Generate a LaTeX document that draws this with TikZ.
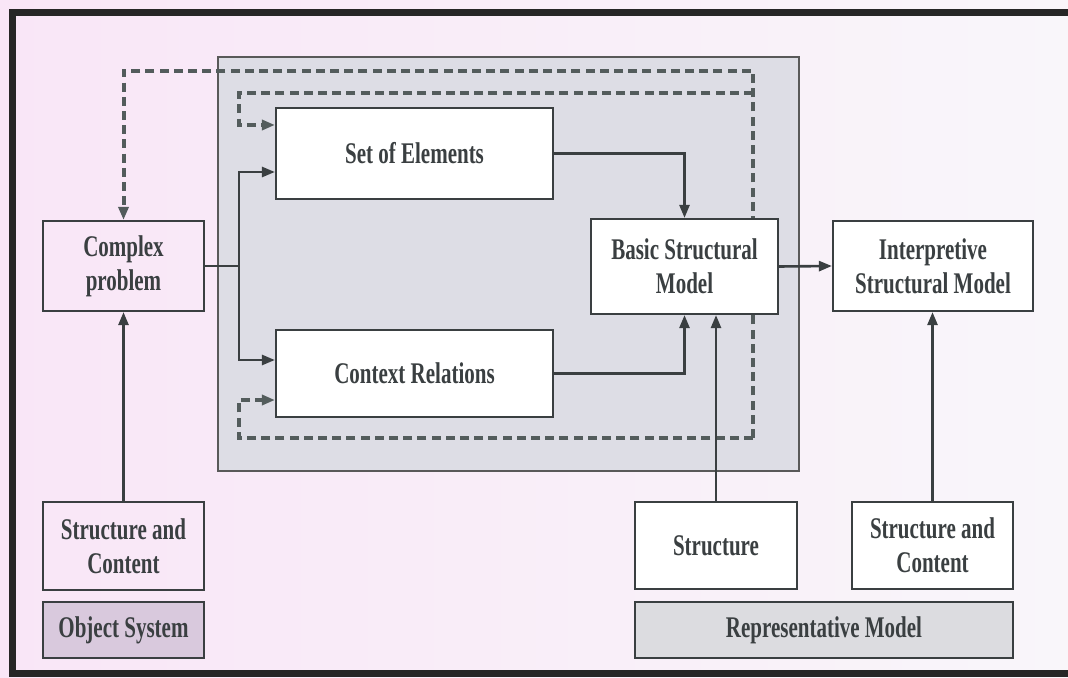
\documentclass[tikz,border=0pt]{standalone}
\usepackage{fontspec}
\setmainfont{Liberation Serif}[FakeStretch=0.70]
\usepackage{xcolor}
\usetikzlibrary{positioning, arrows.meta, calc}

\definecolor{inkgray}{HTML}{3A3F41}
\definecolor{dashgray}{HTML}{535C5C}
\definecolor{pinkbg}{HTML}{F9E6F7}
\definecolor{palebg}{HTML}{F9F6FA}
\definecolor{panelgray}{HTML}{DDDDE5}
\definecolor{objfill}{HTML}{D9C9DD}
\definecolor{repfill}{HTML}{DCDCE0}

\pgfdeclarelayer{paper}
\pgfdeclarelayer{loops}
\pgfsetlayers{paper,loops,main}

\begin{document}
\begin{tikzpicture}[
    x=0.5pt, y=-0.5pt,
    block/.style={rectangle, draw=inkgray, line width=1.1pt, align=center, text=inkgray, font=\fontsize{15}{17}\selectfont\bfseries, inner sep=2pt},
    arrow/.style={-{Triangle[length=6.5pt, width=5pt]}, line width=1.3pt, draw=inkgray},
    feedback/.style={-{Triangle[length=6.5pt, width=5pt]}, line width=2pt, draw=dashgray, dash pattern=on 4.5pt off 2.6pt}
]
\useasboundingbox (0,0) rectangle (1068,678);

\node[block, fill=white, minimum width=138.5pt, minimum height=45.5pt] (elements) at (414.5,153.5) {Set of Elements};
\node[block, fill=white, minimum width=138.5pt, minimum height=43.5pt] (relations) at (414.5,373.5) {Context Relations};
\node[block, minimum width=80.5pt, minimum height=45pt] (problem) at (123.5,266) {Complex\\problem};
\node[block, fill=white, minimum width=93.5pt, minimum height=47.5pt] (bsm) at (684.5,266.5) {Basic Structural\\Model};
\node[block, fill=white, minimum width=100pt, minimum height=45pt] (ism) at (933,266) {Interpretive\\Structural Model};
\node[block, minimum width=80.5pt, minimum height=44pt] (contentL) at (123.5,546) {Structure and\\Content};
\node[block, fill=objfill, minimum width=80.5pt, minimum height=28pt] (objsys) at (123.5,630) {Object System};
\node[block, fill=white, minimum width=81pt, minimum height=43.5pt] (structure) at (716,545.5) {Structure};
\node[block, fill=white, minimum width=80.5pt, minimum height=43.5pt] (contentR) at (932.5,545.5) {Structure and\\Content};
\node[block, fill=repfill, minimum width=189pt, minimum height=28pt] (repmodel) at (824,630) {Representative Model};

% solid flow
\coordinate (fork) at (239,266);
\draw[arrow] (problem.east) -- (fork) |- ($(elements.west)+(0,18.5)$);
\draw[arrow] (fork) |- ($(relations.west)+(0,-13.5)$);
\draw[arrow] (elements.east) -| (bsm.north);
\draw[arrow] (relations.east) -| (bsm.south);
\draw[arrow] (bsm.east) -- (ism.west);
\draw[arrow] (structure.north) -- (structure.north |- bsm.south);
\draw[arrow] (contentL.north) -- (problem.south);
\draw[arrow] (contentR.north) -- (contentR.north |- ism.south);

% feedback loops
\begin{pgfonlayer}{loops}
\coordinate (loopT) at (753,71);
\coordinate (loopM) at (753,93);
\coordinate (loopB) at (753,438);
\coordinate (turnM) at (239,93);
\coordinate (turnB) at (239,438);
\draw[feedback] (loopB) -- (loopT) -| (problem.north);
\draw[feedback] (loopM) -- (turnM) |- ($(elements.west)+(0,-28.5)$);
\draw[feedback] (loopB) -- (turnB) |- ($(relations.west)+(0,26.5)$);
\end{pgfonlayer}

% paper, panel and frame
\begin{pgfonlayer}{paper}
\shade[left color=pinkbg, right color=palebg] (0,0) rectangle (1068,678);
\fill[panelgray] (218,57) rectangle (799,471);
\draw[gray!70!black, line width=0.8pt] (218,57) rectangle (799,471);
\begin{scope}
\clip (0,0) rectangle (1068,678);
\draw[line width=3.5pt, black!85] (12,13) rectangle (1100,673);
\end{scope}
\end{pgfonlayer}

\end{tikzpicture}
\end{document}
